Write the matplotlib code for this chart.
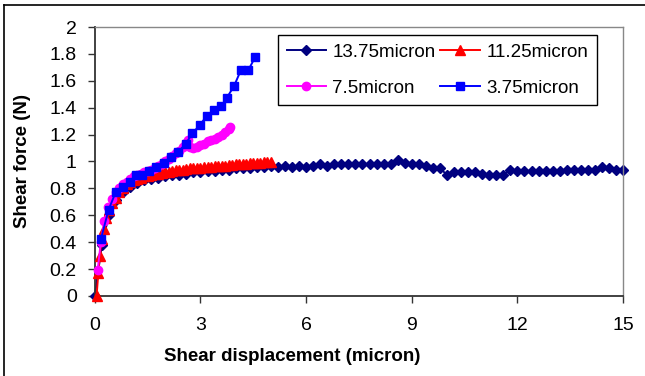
import matplotlib.pyplot as plt
from matplotlib.lines import Line2D
import numpy as np

plt.rcParams['font.family'] = ['Liberation Sans', 'DejaVu Sans']

# 13.75 micron (diamonds), every 0.2 micron
x1375 = np.arange(0, 15.01, 0.2)
y1375 = [0.00, 0.38, 0.60, 0.71, 0.77, 0.81, 0.84, 0.86, 0.87, 0.88,
         0.89, 0.90, 0.90, 0.91, 0.92, 0.92, 0.93, 0.93, 0.94, 0.94,
         0.95, 0.95, 0.95, 0.96, 0.96, 0.97, 0.96, 0.97, 0.96, 0.97,
         0.96, 0.97, 0.98, 0.97, 0.98, 0.98, 0.98, 0.98, 0.98, 0.98,
         0.98, 0.98, 0.98, 1.01, 0.99, 0.98, 0.98, 0.97, 0.95, 0.95,
         0.90, 0.92, 0.92, 0.92, 0.92, 0.91, 0.90, 0.90, 0.90, 0.94,
         0.93, 0.93, 0.93, 0.93, 0.93, 0.93, 0.93, 0.94, 0.94, 0.94,
         0.94, 0.94, 0.96, 0.95, 0.94, 0.94]

# 11.25 micron (triangles)
x1125 = [0.05, 0.1, 0.14, 0.2, 0.27, 0.33, 0.4, 0.5, 0.6, 0.7, 0.8, 0.9,
         1.0, 1.1, 1.2, 1.3, 1.4, 1.5, 1.6, 1.7, 1.8, 1.9, 2.0, 2.1, 2.2,
         2.3, 2.4, 2.5, 2.6, 2.7, 2.8, 2.9, 3.0, 3.1, 3.2, 3.3, 3.4, 3.5,
         3.6, 3.7, 3.8, 3.9, 4.0, 4.1, 4.2, 4.3, 4.4, 4.5, 4.6, 4.7, 4.8,
         4.9, 5.0]
y1125 = [0.00, 0.17, 0.30, 0.42, 0.50, 0.58, 0.64, 0.69, 0.73, 0.77, 0.80, 0.83,
         0.85, 0.86, 0.87, 0.88, 0.89, 0.895, 0.90, 0.905, 0.91, 0.915, 0.92, 0.925, 0.93,
         0.935, 0.94, 0.94, 0.945, 0.95, 0.95, 0.955, 0.955, 0.96, 0.96, 0.96, 0.965, 0.965,
         0.97, 0.97, 0.975, 0.975, 0.98, 0.98, 0.985, 0.985, 0.99, 0.99, 0.99, 0.99, 0.995,
         0.995, 0.995]

# 7.5 micron (circles)
x75 = [0.08, 0.17, 0.27, 0.38, 0.49, 0.6, 0.7, 0.8, 0.9, 1.0, 1.1, 1.2, 1.3,
       1.4, 1.5, 1.6, 1.7, 1.8, 1.9, 2.0, 2.1, 2.2, 2.3, 2.4, 2.5, 2.6, 2.65,
       2.7, 2.8, 2.9, 3.0, 3.1, 3.2, 3.3, 3.4, 3.5, 3.6, 3.7, 3.8, 3.85]
y75 = [0.19, 0.40, 0.56, 0.66, 0.72, 0.77, 0.80, 0.83, 0.85, 0.87, 0.89, 0.90, 0.91,
       0.92, 0.93, 0.94, 0.95, 0.97, 0.98, 1.00, 1.02, 1.04, 1.06, 1.08, 1.11, 1.14, 1.16,
       1.11, 1.10, 1.11, 1.12, 1.13, 1.15, 1.16, 1.17, 1.18, 1.20, 1.22, 1.24, 1.26]

# 3.75 micron (squares)
x375 = [0.17, 0.39, 0.59, 0.79, 0.99, 1.18, 1.34, 1.54, 1.75, 1.96, 2.16, 2.36,
        2.58, 2.77, 2.98, 3.18, 3.39, 3.59, 3.74, 3.95, 4.15, 4.36, 4.56]
y375 = [0.42, 0.64, 0.77, 0.81, 0.85, 0.90, 0.90, 0.93, 0.96, 0.99, 1.03, 1.07,
        1.13, 1.21, 1.27, 1.34, 1.38, 1.41, 1.47, 1.56, 1.68, 1.68, 1.78]

fig = plt.figure(figsize=(6.45, 3.76), dpi=100)
ax = fig.add_axes([0.147, 0.213, 0.819, 0.715])

l1, = ax.plot(x1375, y1375, color='#000080', marker='D', ms=5, lw=1.4,
              label='13.75micron', clip_on=False, zorder=2)
l2, = ax.plot(x1125, y1125, color='#FF0000', marker='^', ms=6.5, lw=1.4,
              label='11.25micron', clip_on=False, zorder=3)
l3, = ax.plot(x75, y75, color='#FF00FF', marker='o', ms=6, lw=1.4,
              label='7.5micron', clip_on=False, zorder=4)
l4, = ax.plot(x375, y375, color='#0000FF', marker='s', ms=6, lw=1.4,
              label='3.75micron', clip_on=False, zorder=5)

ax.set_xlim(0, 15)
ax.set_ylim(0, 2)
ax.set_xticks([0, 3, 6, 9, 12, 15])
ax.set_yticks(np.arange(0, 2.01, 0.2))
ax.set_yticklabels(['0', '0.2', '0.4', '0.6', '0.8', '1', '1.2', '1.4', '1.6', '1.8', '2'])
ax.tick_params(direction='out', length=5, width=1, labelsize=14, colors='#333333',
               labelcolor='black')
ax.tick_params(axis='y', pad=8)
ax.tick_params(axis='x', pad=10)

for s in ['left', 'bottom']:
    ax.spines[s].set_color('#333333')
    ax.spines[s].set_linewidth(1.3)
for s in ['top', 'right']:
    ax.spines[s].set_color('#888888')
    ax.spines[s].set_linewidth(1)

ax.set_xlabel('Shear displacement (micron)', fontsize=13.5, fontweight='bold', va='top')
ax.xaxis.set_label_coords(0.373, -0.193)
ax.set_ylabel('Shear force (N)', fontsize=13.5, fontweight='bold', va='center')
ax.yaxis.set_label_coords(-0.137, 0.5)

leg = ax.legend([l1, l3, l2, l4], ['13.75micron', '7.5micron', '11.25micron', '3.75micron'],
                ncol=2, loc='upper left', bbox_to_anchor=(0.347, 0.97),
                fontsize=13.5, frameon=True, fancybox=False, borderaxespad=0,
                edgecolor='black', handlelength=2.1, handletextpad=0.35,
                borderpad=0.45, labelspacing=1.0, columnspacing=0.25)
leg.get_frame().set_linewidth(1)
leg.get_frame().set_alpha(1)

# outer chart border (top and left edges visible)
fig.add_artist(Line2D([4 / 645, 1], [1 - 5 / 376, 1 - 5 / 376], color='black', lw=1.2))
fig.add_artist(Line2D([4 / 645, 4 / 645], [0, 1 - 5 / 376], color='black', lw=1.2))

fig.savefig('out.png', dpi=100)
